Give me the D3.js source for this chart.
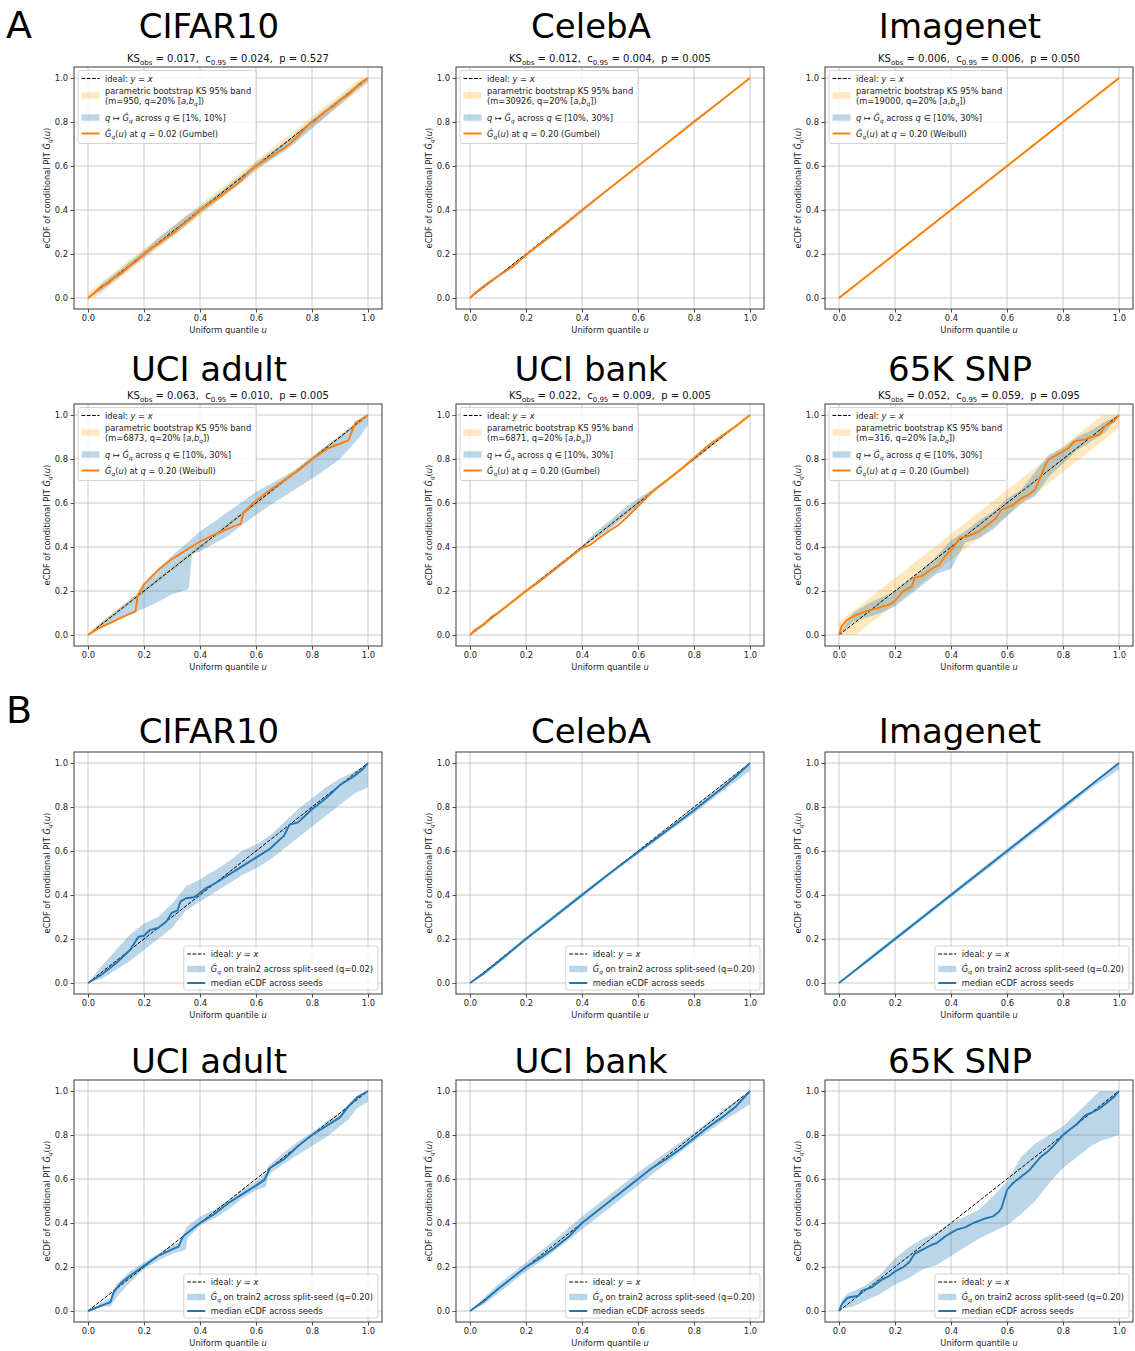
<!DOCTYPE html>
<html>
<head>
<meta charset="utf-8">
<script src="https://cdn.jsdelivr.net/npm/d3@7"></script>
<style>
  body { margin: 0; background: #fff; }
  svg text { font-family: "DejaVu Sans", sans-serif; white-space: pre; }
</style>
</head>
<body>
<svg id="fig" width="1135" height="1351"></svg>
<script>
// ---------- dataset metadata ----------
const datasets   = ["CIFAR10", "CelebA", "Imagenet", "UCI adult", "UCI bank", "65K SNP"];
const ksObs      = [0.017, 0.012, 0.006, 0.063, 0.022, 0.052];
const ksCrit     = [0.024, 0.004, 0.006, 0.010, 0.009, 0.059];
const ksP        = [0.527, 0.005, 0.050, 0.005, 0.005, 0.095];
const bootM      = [950, 30926, 19000, 6873, 6871, 316];
const qSweep     = ["[1%, 10%]", "[10%, 30%]", "[10%, 30%]", "[10%, 30%]", "[10%, 30%]", "[10%, 30%]"];
const qFit       = [0.02, 0.20, 0.20, 0.20, 0.20, 0.20];
const tailFamily = ["Gumbel", "Gumbel", "Weibull", "Weibull", "Gumbel", "Gumbel"];
const qSeed      = [0.02, 0.20, 0.20, 0.20, 0.20, 0.20];
const axisTicks  = [0, 0.2, 0.4, 0.6, 0.8, 1.0];
const idealLine  = [0, 1];

// ---------- A: fitted conditional PIT eCDF at q* ([u, G]) ----------
const fitCifar10 = [[0,0],[0.02,0.02],[0.04,0.045],[0.05,0.055],[0.07,0.065],[0.09,0.09],[0.11,0.105],[0.13,0.125],[0.15,0.148],[0.17,0.165],[0.2,0.2],[0.23,0.23],[0.25,0.245],[0.28,0.275],[0.3,0.29],[0.33,0.325],[0.35,0.345],[0.38,0.375],[0.4,0.4],[0.43,0.425],[0.45,0.445],[0.47,0.46],[0.5,0.49],[0.53,0.515],[0.55,0.54],[0.58,0.58],[0.6,0.6],[0.63,0.625],[0.65,0.64],[0.68,0.665],[0.7,0.68],[0.72,0.7],[0.75,0.735],[0.77,0.765],[0.79,0.79],[0.81,0.805],[0.83,0.83],[0.85,0.85],[0.88,0.875],[0.9,0.9],[0.93,0.925],[0.95,0.95],[0.97,0.975],[1,1]];
const fitCelebA  = [[0,0],[0.02,0.025],[0.05,0.055],[0.1,0.1],[0.15,0.14],[0.2,0.195],[0.25,0.245],[0.3,0.295],[0.35,0.347],[0.4,0.4],[0.5,0.5],[0.6,0.6],[0.7,0.7],[0.8,0.8],[0.9,0.9],[1,1]];
const fitImagenet = [[0,0],[0.25,0.25],[0.5,0.5],[0.75,0.75],[1,1]];
const fitAdult   = [[0,0],[0.03,0.025],[0.08,0.055],[0.12,0.08],[0.17,0.107],[0.177,0.176],[0.2,0.23],[0.25,0.295],[0.3,0.345],[0.35,0.385],[0.4,0.425],[0.44,0.45],[0.47,0.467],[0.52,0.494],[0.545,0.505],[0.555,0.555],[0.59,0.6],[0.64,0.65],[0.7,0.703],[0.76,0.756],[0.8,0.8],[0.86,0.85],[0.93,0.885],[0.955,0.965],[1,1]];
const fitBank    = [[0,0],[0.02,0.025],[0.05,0.05],[0.08,0.085],[0.1,0.1],[0.15,0.15],[0.2,0.2],[0.25,0.245],[0.3,0.295],[0.35,0.345],[0.4,0.395],[0.43,0.41],[0.46,0.44],[0.5,0.475],[0.53,0.5],[0.56,0.535],[0.6,0.585],[0.63,0.625],[0.66,0.66],[0.7,0.7],[0.75,0.75],[0.8,0.805],[0.85,0.86],[0.9,0.905],[0.95,0.95],[1,1]];
const fitSnp     = [[0,0],[0.01,0.04],[0.03,0.07],[0.06,0.09],[0.1,0.11],[0.13,0.12],[0.17,0.135],[0.19,0.145],[0.21,0.17],[0.23,0.2],[0.26,0.22],[0.27,0.26],[0.3,0.27],[0.33,0.3],[0.36,0.32],[0.38,0.36],[0.41,0.4],[0.43,0.44],[0.46,0.45],[0.5,0.47],[0.53,0.5],[0.56,0.53],[0.58,0.57],[0.62,0.59],[0.65,0.62],[0.68,0.64],[0.7,0.66],[0.72,0.72],[0.74,0.78],[0.75,0.8],[0.78,0.82],[0.82,0.85],[0.84,0.88],[0.88,0.89],[0.9,0.9],[0.93,0.91],[0.95,0.95],[0.98,0.97],[1,1]];

// ---------- A: envelope of G_q across the q sweep ([u, lo, hi]) ----------
const sweepCifar10 = [[0,0,0],[0.05,0.035,0.065],[0.1,0.085,0.115],[0.15,0.135,0.165],[0.2,0.185,0.215],[0.25,0.235,0.27],[0.3,0.28,0.32],[0.35,0.33,0.37],[0.4,0.385,0.415],[0.45,0.43,0.46],[0.5,0.48,0.51],[0.55,0.53,0.56],[0.6,0.585,0.615],[0.65,0.625,0.66],[0.7,0.665,0.705],[0.75,0.715,0.755],[0.8,0.77,0.81],[0.85,0.825,0.86],[0.9,0.88,0.91],[0.95,0.935,0.96],[1,0.985,1]];
const sweepCelebA  = [[0,0,0],[0.05,0.045,0.06],[0.1,0.09,0.105],[0.2,0.19,0.2],[0.3,0.285,0.3],[0.4,0.39,0.4],[0.5,0.495,0.505],[0.6,0.597,0.605],[0.7,0.697,0.705],[0.8,0.797,0.81],[0.9,0.897,0.905],[1,1,1]];
const sweepImagenet = [[0,0,0],[0.25,0.247,0.253],[0.5,0.497,0.503],[0.75,0.747,0.753],[1,1,1]];
const sweepAdult   = [[0,0,0],[0.05,0.04,0.06],[0.1,0.07,0.11],[0.15,0.095,0.16],[0.17,0.105,0.18],[0.2,0.12,0.235],[0.25,0.15,0.3],[0.3,0.185,0.36],[0.35,0.205,0.415],[0.36,0.21,0.425],[0.372,0.37,0.44],[0.4,0.38,0.47],[0.45,0.415,0.515],[0.5,0.45,0.56],[0.55,0.5,0.605],[0.6,0.545,0.65],[0.65,0.59,0.685],[0.7,0.63,0.72],[0.75,0.67,0.76],[0.8,0.71,0.81],[0.85,0.755,0.86],[0.9,0.8,0.905],[0.95,0.87,0.955],[0.97,0.9,0.975],[1,0.955,1]];
const sweepBank    = [[0,0,0],[0.05,0.04,0.055],[0.1,0.095,0.105],[0.2,0.195,0.205],[0.3,0.29,0.305],[0.4,0.395,0.405],[0.45,0.44,0.47],[0.5,0.48,0.52],[0.55,0.535,0.575],[0.6,0.59,0.62],[0.65,0.645,0.66],[0.7,0.695,0.705],[0.8,0.795,0.805],[0.9,0.895,0.905],[1,1,1]];
const sweepSnp     = [[0,0,0],[0.05,0.06,0.1],[0.1,0.08,0.14],[0.15,0.1,0.17],[0.2,0.13,0.2],[0.25,0.18,0.25],[0.3,0.23,0.3],[0.35,0.28,0.36],[0.4,0.3,0.43],[0.45,0.42,0.47],[0.5,0.44,0.52],[0.55,0.48,0.56],[0.6,0.54,0.62],[0.65,0.6,0.66],[0.7,0.63,0.74],[0.75,0.72,0.82],[0.8,0.78,0.85],[0.85,0.84,0.9],[0.9,0.88,0.93],[0.95,0.92,0.97],[1,1,1]];

// ---------- B: median eCDF across split seeds ([u, G]) ----------
const seedMedCifar10 = [[0,0],[0.05,0.04],[0.1,0.09],[0.15,0.15],[0.18,0.21],[0.2,0.215],[0.22,0.24],[0.25,0.25],[0.28,0.28],[0.3,0.32],[0.32,0.33],[0.33,0.37],[0.35,0.385],[0.38,0.39],[0.4,0.41],[0.42,0.43],[0.45,0.45],[0.5,0.49],[0.55,0.53],[0.6,0.57],[0.65,0.61],[0.7,0.67],[0.72,0.72],[0.75,0.73],[0.8,0.79],[0.85,0.84],[0.9,0.9],[0.95,0.94],[0.98,0.97],[1,1]];
const seedMedCelebA  = [[0,0],[0.05,0.045],[0.1,0.095],[0.2,0.2],[0.3,0.3],[0.4,0.4],[0.5,0.5],[0.6,0.595],[0.7,0.69],[0.8,0.785],[0.9,0.885],[0.95,0.94],[1,1]];
const seedMedImagenet = [[0,0],[0.25,0.25],[0.5,0.5],[0.75,0.75],[1,1]];
const seedMedAdult   = [[0,0],[0.08,0.04],[0.09,0.08],[0.1,0.1],[0.12,0.13],[0.15,0.16],[0.2,0.205],[0.25,0.25],[0.3,0.28],[0.323,0.293],[0.34,0.34],[0.37,0.37],[0.4,0.4],[0.45,0.44],[0.5,0.49],[0.55,0.53],[0.6,0.57],[0.63,0.596],[0.65,0.65],[0.7,0.69],[0.75,0.75],[0.8,0.8],[0.85,0.84],[0.9,0.88],[0.93,0.93],[0.96,0.97],[1,1]];
const seedMedBank    = [[0,0],[0.05,0.045],[0.1,0.1],[0.2,0.2],[0.25,0.24],[0.3,0.285],[0.35,0.335],[0.4,0.4],[0.45,0.45],[0.5,0.5],[0.55,0.55],[0.6,0.6],[0.65,0.65],[0.7,0.69],[0.75,0.735],[0.8,0.785],[0.85,0.835],[0.9,0.88],[0.95,0.93],[1,1]];
const seedMedSnp     = [[0,0],[0.01,0.03],[0.03,0.06],[0.05,0.065],[0.07,0.07],[0.08,0.09],[0.12,0.11],[0.15,0.14],[0.18,0.16],[0.2,0.18],[0.23,0.2],[0.25,0.22],[0.27,0.26],[0.3,0.28],[0.33,0.3],[0.35,0.31],[0.38,0.34],[0.4,0.355],[0.42,0.37],[0.45,0.38],[0.48,0.4],[0.5,0.41],[0.52,0.42],[0.55,0.43],[0.57,0.45],[0.58,0.467],[0.6,0.55],[0.62,0.58],[0.65,0.61],[0.68,0.64],[0.7,0.67],[0.72,0.7],[0.75,0.73],[0.78,0.77],[0.8,0.8],[0.82,0.82],[0.85,0.85],[0.88,0.89],[0.9,0.9],[0.93,0.92],[0.95,0.94],[0.98,0.97],[1,1]];

// ---------- B: spread of G_q on train2 across split seeds ([u, lo, hi]) ----------
const seedBandCifar10 = [[0,0,0],[0.05,0.02,0.08],[0.1,0.06,0.15],[0.15,0.1,0.22],[0.2,0.15,0.27],[0.25,0.2,0.3],[0.3,0.25,0.36],[0.35,0.33,0.44],[0.4,0.37,0.47],[0.45,0.41,0.51],[0.5,0.45,0.55],[0.55,0.49,0.6],[0.6,0.52,0.63],[0.65,0.56,0.67],[0.7,0.61,0.73],[0.75,0.66,0.79],[0.8,0.71,0.84],[0.85,0.76,0.89],[0.9,0.81,0.93],[0.95,0.86,0.96],[1,0.89,1]];
const seedBandCelebA  = [[0,0,0],[0.05,0.035,0.05],[0.1,0.085,0.105],[0.2,0.195,0.21],[0.3,0.29,0.31],[0.4,0.39,0.41],[0.5,0.49,0.505],[0.6,0.585,0.6],[0.7,0.68,0.7],[0.8,0.77,0.8],[0.9,0.87,0.9],[1,0.965,1]];
const seedBandImagenet = [[0,0,0],[0.1,0.09,0.11],[0.2,0.19,0.21],[0.4,0.39,0.41],[0.6,0.585,0.61],[0.8,0.785,0.81],[0.9,0.885,0.905],[1,0.97,1]];
const seedBandAdult   = [[0,0,0],[0.05,0.02,0.04],[0.08,0.02,0.06],[0.1,0.06,0.12],[0.15,0.13,0.18],[0.2,0.19,0.22],[0.25,0.23,0.26],[0.3,0.26,0.3],[0.33,0.27,0.31],[0.35,0.28,0.38],[0.355,0.33,0.385],[0.4,0.39,0.43],[0.45,0.42,0.46],[0.5,0.46,0.5],[0.55,0.51,0.55],[0.6,0.55,0.59],[0.635,0.565,0.63],[0.645,0.62,0.66],[0.7,0.67,0.72],[0.75,0.71,0.77],[0.8,0.75,0.81],[0.85,0.79,0.86],[0.9,0.84,0.9],[0.93,0.87,0.94],[0.96,0.92,0.98],[1,0.95,1]];
const seedBandBank    = [[0,0,0],[0.05,0.03,0.06],[0.1,0.08,0.12],[0.2,0.18,0.22],[0.3,0.27,0.32],[0.4,0.37,0.43],[0.5,0.47,0.53],[0.6,0.57,0.63],[0.7,0.67,0.72],[0.8,0.77,0.81],[0.9,0.86,0.91],[1,0.94,1]];
const seedBandSnp     = [[0,0,0],[0.01,0.01,0.05],[0.03,0.015,0.08],[0.05,0.02,0.09],[0.1,0.05,0.12],[0.15,0.08,0.17],[0.2,0.12,0.24],[0.25,0.15,0.29],[0.3,0.19,0.33],[0.35,0.21,0.36],[0.4,0.25,0.4],[0.45,0.29,0.43],[0.5,0.33,0.46],[0.55,0.36,0.52],[0.6,0.39,0.59],[0.65,0.44,0.7],[0.7,0.5,0.76],[0.75,0.58,0.8],[0.8,0.65,0.84],[0.85,0.7,0.9],[0.9,0.75,0.96],[0.93,0.77,1],[0.95,0.78,1],[1,0.8,1]];

const fitCurves   = [fitCifar10, fitCelebA, fitImagenet, fitAdult, fitBank, fitSnp];
const sweepBands  = [sweepCifar10, sweepCelebA, sweepImagenet, sweepAdult, sweepBank, sweepSnp];
const seedMedians = [seedMedCifar10, seedMedCelebA, seedMedImagenet, seedMedAdult, seedMedBank, seedMedSnp];
const seedBands   = [seedBandCifar10, seedBandCelebA, seedBandImagenet, seedBandAdult, seedBandBank, seedBandSnp];

// ---------- styling ----------
const C_ORANGE = "#ff7f0e", C_BAND_OR = "#ffa500", C_BLUE = "#1f77b4";
const colLeft = [74, 456, 825];
const axW = 308, axH = 242;
const rowTopA = [67, 404], rowTopB = [752, 1080];
const titleBaseA = [38, 381], titleBaseB = [743, 1073];
const FS_TICK = 8.4, FS_LAB = 8.3, FS_LEG = 8.3, FS_SUB = 10, FS_TITLE = 34;

const svg = d3.select("#fig");
svg.append("rect").attr("width", 1135).attr("height", 1351).attr("fill", "#fff");

// rich text segments: normal, italic, subscript, italic subscript
const N = t => ({t}), I = t => ({t, it: true}), S = t => ({t, sub: true}), SI = t => ({t, sub: true, it: true});
function rich(textSel, segs, fs) {
  let shift = 0;
  segs.forEach(s => {
    const ts = textSel.append("tspan").text(s.t);
    const target = s.sub ? fs * 0.28 : 0;
    if (target !== shift) { ts.attr("dy", target - shift); shift = target; }
    if (s.sub) ts.attr("font-size", fs * 0.7);
    if (s.it) ts.attr("font-style", "italic");
  });
  return textSel;
}
const fmt3 = d3.format(".3f"), fmt2 = d3.format(".2f"), fmt1 = d3.format(".1f");

function makeAxes(i, top, titleBase) {
  const left = colLeft[i % 3];
  const x = d3.scaleLinear().domain([-0.05, 1.05]).range([0, axW]);
  const y = d3.scaleLinear().domain([-0.05, 1.05]).range([axH, 0]);
  const g = svg.append("g").attr("transform", `translate(${left},${top})`);

  // dataset title
  svg.append("text").attr("x", left + axW / 2 - 19).attr("y", titleBase)
    .attr("text-anchor", "middle").attr("font-size", FS_TITLE).attr("fill", "#000")
    .text(datasets[i]);

  // grid
  const grid = g.append("g").attr("stroke", "#c4c4c4").attr("stroke-width", 0.9);
  axisTicks.forEach(t => {
    grid.append("line").attr("x1", x(t)).attr("x2", x(t)).attr("y1", 0).attr("y2", axH);
    grid.append("line").attr("y1", y(t)).attr("y2", y(t)).attr("x1", 0).attr("x2", axW);
  });
  const marks = g.append("g");

  // axes
  const styleAxis = sel => {
    sel.select(".domain").remove();
    sel.selectAll(".tick line").attr("stroke", "#222").attr("stroke-width", 0.8);
    sel.selectAll(".tick text").attr("font-size", FS_TICK).attr("fill", "#222")
      .attr("font-family", "DejaVu Sans");
  };
  g.append("g").attr("transform", `translate(0,${axH})`)
    .call(d3.axisBottom(x).tickValues(axisTicks).tickFormat(fmt1).tickSize(3.5).tickPadding(2.5))
    .call(styleAxis);
  g.append("g")
    .call(d3.axisLeft(y).tickValues(axisTicks).tickFormat(fmt1).tickSize(3.5).tickPadding(2.5))
    .call(styleAxis);

  // axis labels
  rich(g.append("text").attr("x", axW / 2).attr("y", axH + 24).attr("text-anchor", "middle")
    .attr("font-size", FS_LAB).attr("fill", "#222"), [N("Uniform quantile "), I("u")], FS_LAB);
  rich(g.append("text").attr("transform", `translate(-24,${axH / 2}) rotate(-90)`)
    .attr("text-anchor", "middle").attr("font-size", FS_LAB).attr("fill", "#222"),
    [N("eCDF of conditional PIT "), I("Ĝ"), SI("q"), N("("), I("u"), N(")")], FS_LAB);

  return {g, marks, x, y, left, top};
}

function frame(ax) {
  ax.g.append("rect").attr("width", axW).attr("height", axH)
    .attr("fill", "none").attr("stroke", "#3a3a3a").attr("stroke-width", 1);
}

function legend(ax, rows, height, anchor) {
  const lg = ax.g.append("g");
  const box = lg.append("rect").attr("rx", 2).attr("fill", "#fff").attr("fill-opacity", 0.8)
    .attr("stroke", "#cfcfcf").attr("stroke-width", 0.9).attr("height", height);
  let maxLen = 0;
  rows.forEach(r => {
    const hx0 = 3.5, hx1 = 21.5;
    if (r.kind === "dash") {
      lg.append("line").attr("x1", hx0).attr("x2", hx1).attr("y1", r.y).attr("y2", r.y)
        .attr("stroke", "#000").attr("stroke-width", 1).attr("stroke-dasharray", "3.7,1.6");
    } else if (r.kind === "line") {
      lg.append("line").attr("x1", hx0).attr("x2", hx1).attr("y1", r.y).attr("y2", r.y)
        .attr("stroke", r.color).attr("stroke-width", 2);
    } else {
      lg.append("rect").attr("x", hx0).attr("y", r.y - 3.2).attr("width", hx1 - hx0).attr("height", 6.4)
        .attr("fill", r.color).attr("fill-opacity", r.op);
    }
    const n = r.lines.length;
    r.lines.forEach((segs, k) => {
      const cy = r.y + (k - (n - 1) / 2) * 10;
      const t = rich(lg.append("text").attr("x", 27).attr("y", cy + 3)
        .attr("font-size", FS_LEG).attr("fill", "#222"), segs, FS_LEG);
      maxLen = Math.max(maxLen, t.node().getComputedTextLength());
    });
  });
  const w = 27 + maxLen + 5;
  box.attr("width", w);
  if (anchor === "upper left") lg.attr("transform", `translate(4,3.5)`);
  else lg.attr("transform", `translate(${axW - 4 - w},${axH - 4 - height})`);
}

const area = (ax) => d3.area().x(d => ax.x(d[0])).y0(d => ax.y(d[1])).y1(d => ax.y(d[2]));
const line = (ax) => d3.line().x(d => ax.x(d[0])).y(d => ax.y(d[1]));

// ---------- panel A ----------
datasets.forEach((name, i) => {
  const r = Math.floor(i / 3);
  const ax = makeAxes(i, rowTopA[r], titleBaseA[r]);
  const c = ksCrit[i];

  // KS acceptance band around y = x, half-width c_0.95
  const ksBand = [0, c, 1 - c, 1].map(u => [u, Math.max(0, u - c), Math.min(1, u + c)]);
  ax.marks.append("path").datum(ksBand).attr("d", area(ax))
    .attr("fill", C_BAND_OR).attr("fill-opacity", 0.25);
  ax.marks.append("path").datum(sweepBands[i]).attr("d", area(ax))
    .attr("fill", C_BLUE).attr("fill-opacity", 0.3);
  ax.marks.append("path").datum(idealLine.map(v => [v, v])).attr("d", line(ax))
    .attr("fill", "none").attr("stroke", "#000").attr("stroke-width", 1).attr("stroke-dasharray", "3.7,1.6");
  ax.marks.append("path").datum(fitCurves[i]).attr("d", line(ax))
    .attr("fill", "none").attr("stroke", C_ORANGE).attr("stroke-width", 1.9).attr("stroke-linejoin", "round");
  frame(ax);

  // KS summary above the axes
  rich(svg.append("text").attr("x", ax.left + axW / 2).attr("y", ax.top - 5)
    .attr("text-anchor", "middle").attr("font-size", FS_SUB).attr("fill", "#111"),
    [N("KS"), S("obs"), N(` = ${fmt3(ksObs[i])},  c`), S("0.95"), N(` = ${fmt3(c)},  p = ${fmt3(ksP[i])}`)], FS_SUB);

  legend(ax, [
    {kind: "dash", y: 8, lines: [[N("ideal: "), I("y"), N(" = "), I("x")]]},
    {kind: "patch", y: 25, color: C_BAND_OR, op: 0.25, lines: [
      [N("parametric bootstrap KS 95% band")],
      [N(`(m=${bootM[i]}, q=20% [`), I("a"), N(","), I("b"), SI("q"), N("])")]]},
    {kind: "patch", y: 47, color: C_BLUE, op: 0.3, lines: [
      [I("q"), N(" ↦ "), I("Ĝ"), SI("q"), N(" across "), I("q"), N(" ∈ " + qSweep[i])]]},
    {kind: "line", y: 63, color: C_ORANGE, lines: [
      [I("Ĝ"), SI("q"), N("("), I("u"), N(") at "), I("q"), N(` = ${fmt2(qFit[i])} (${tailFamily[i]})`)]]}
  ], 73, "upper left");
});

// ---------- panel B ----------
datasets.forEach((name, i) => {
  const r = Math.floor(i / 3);
  const ax = makeAxes(i, rowTopB[r], titleBaseB[r]);
  ax.marks.append("path").datum(seedBands[i]).attr("d", area(ax))
    .attr("fill", C_BLUE).attr("fill-opacity", 0.3);
  ax.marks.append("path").datum(idealLine.map(v => [v, v])).attr("d", line(ax))
    .attr("fill", "none").attr("stroke", "#000").attr("stroke-width", 1).attr("stroke-dasharray", "3.7,1.6");
  ax.marks.append("path").datum(seedMedians[i]).attr("d", line(ax))
    .attr("fill", "none").attr("stroke", C_BLUE).attr("stroke-width", 1.9).attr("stroke-linejoin", "round");
  frame(ax);
  legend(ax, [
    {kind: "dash", y: 8, lines: [[N("ideal: "), I("y"), N(" = "), I("x")]]},
    {kind: "patch", y: 23, color: C_BLUE, op: 0.3, lines: [
      [I("Ĝ"), SI("q"), N(` on train2 across split-seed (q=${fmt2(qSeed[i])})`)]]},
    {kind: "line", y: 37, color: C_BLUE, lines: [[N("median eCDF across seeds")]]}
  ], 44, "lower right");
});

// panel letters
svg.append("text").attr("x", 6).attr("y", 38).attr("font-size", 38).attr("fill", "#000").text("A");
svg.append("text").attr("x", 6).attr("y", 723).attr("font-size", 38).attr("fill", "#000").text("B");
</script>
</body>
</html>
